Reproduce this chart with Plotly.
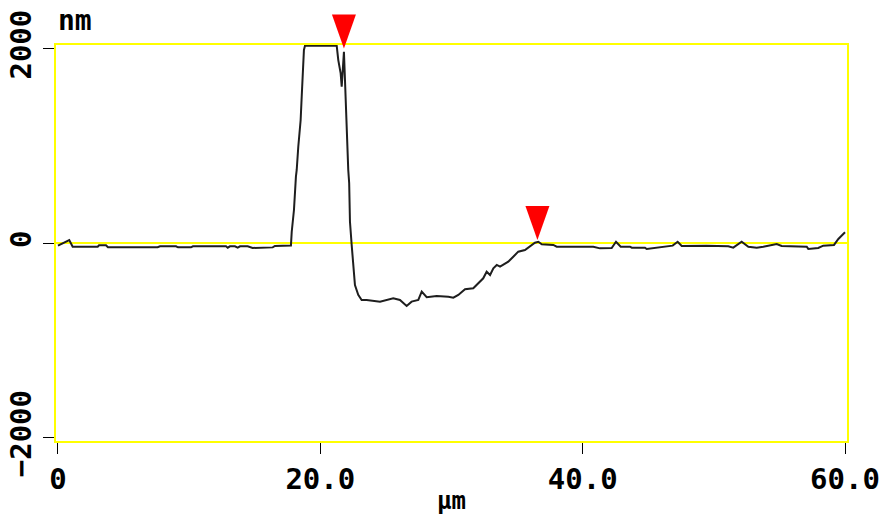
import plotly.graph_objects as go

# Profile data (µm, nm)
x_um = [0.0, 0.86, 1.12, 3.03, 3.13, 3.66, 3.81, 7.60, 7.78, 9.00, 9.15, 10.14, 10.29,
        12.81, 12.94, 13.11, 13.49, 13.70, 13.88, 14.46, 14.84, 16.37, 16.54, 17.38, 17.76,
        17.82, 17.99, 18.14, 18.20, 18.32, 18.50, 18.58, 18.66, 18.75, 18.83,
        21.25, 21.37, 21.55, 21.63, 21.80, 21.88, 22.01, 22.13, 22.20, 22.26, 22.39, 22.51,
        22.64, 22.89, 23.15, 23.53, 24.55, 25.56, 26.07, 26.58, 26.96, 27.47, 27.73, 28.11,
        28.87, 29.76, 30.14, 30.52, 31.03, 31.66, 32.04, 32.42, 32.68, 32.94, 33.19, 33.45,
        33.70, 33.95, 34.33, 34.71, 35.09, 35.60, 35.98, 36.36, 36.62, 36.88, 37.76, 38.02,
        40.81, 41.07, 41.32, 42.21, 42.54, 42.90, 43.61, 43.74, 44.75, 44.88, 45.64, 46.86,
        47.24, 47.55, 49.45, 51.10, 51.48, 52.12, 52.63, 53.27, 53.77, 54.79, 55.17, 57.08,
        57.20, 57.96, 58.34, 59.16, 59.49, 60.0]
z_nm = [-22, 36, -33, -33, -18, -18, -39, -39, -29, -29, -39, -39, -29,
        -29, -43, -29, -29, -43, -29, -29, -46, -40, -26, -26, -20,
        121, 344, 687, 756, 995, 1270, 1509, 1784, 1990, 2033,
        2033, 1886, 1750, 1612, 1972, 1681, 1115, 756, 619, 224, -15, -238,
        -427, -529, -581, -581, -598, -563, -581, -643, -598, -581, -495, -553,
        -540, -547, -557, -529, -471, -461, -409, -358, -290, -324, -255, -221,
        -238, -221, -187, -136, -84, -67, -33, 8, 18, -8, -15, -33,
        -33, -43, -50, -46, 18, -33, -33, -43, -43, -56, -43, -22,
        18, -26, -22, -29, -43, 18, -33, -43, -33, -5, -26, -33,
        -56, -46, -22, -15, 46, 115]

# Cursor positions (µm, nm)
cursor_x = [21.80, 36.55]
cursor_y = [2005, 36]

x_ticks = [0, 20, 40, 60]
x_tick_labels = ["0", "20.0", "40.0", "60.0"]
y_ticks = [-2000, 0, 2000]
y_tick_labels = ["\u22122000", "0", "2000"]

x_range = [-0.15, 60.15]
y_range = [-2031, 2041]

FONT = "DejaVu Sans Mono"
YELLOW = "#FFFF00"

fig = go.Figure()
fig.add_trace(go.Scatter(x=x_um, y=z_nm, mode="lines",
                         line=dict(color="#1e1e1e", width=2),
                         hoverinfo="skip", showlegend=False))

for cx, cy in zip(cursor_x, cursor_y):
    fig.add_shape(type="path", xref="x", yref="paper",
                  xsizemode="pixel", ysizemode="pixel",
                  xanchor=cx, yanchor=(cy - y_range[0]) / (y_range[1] - y_range[0]),
                  path="M -12,34 L 12,34 L 0,0 Z",
                  fillcolor="#FF0000", line=dict(width=0), layer="above")

fig.update_xaxes(range=x_range, tickvals=x_ticks, ticktext=x_tick_labels,
                 showgrid=False, zeroline=False, showline=True, linecolor=YELLOW,
                 linewidth=2, mirror=True, ticks="outside", ticklen=11, tickwidth=1,
                 tickcolor="#000000", automargin=False,
                 tickfont=dict(family=FONT, size=29, color="#000000", weight="bold"))
fig.update_yaxes(range=y_range, tickvals=y_ticks, ticktext=y_tick_labels,
                 showgrid=False, zeroline=True, zerolinecolor=YELLOW, zerolinewidth=2,
                 showline=True, linecolor=YELLOW, linewidth=2, mirror=True,
                 ticks="outside", ticklen=11, tickwidth=1, tickcolor="#000000",
                 tickangle=-90, automargin=False,
                 tickfont=dict(family=FONT, size=29, color="#000000", weight="bold"))

fig.add_annotation(text="nm", xref="paper", yref="paper", x=0.0, y=1.062,
                   xanchor="left", yanchor="middle", showarrow=False,
                   font=dict(family=FONT, size=28, color="#000000", weight="bold"))
fig.add_annotation(text="µm", xref="paper", yref="paper", x=0.5, y=-0.152,
                   xanchor="center", yanchor="middle", showarrow=False,
                   font=dict(family=FONT, size=24, color="#000000", weight="bold"))

fig.update_layout(width=884, height=516,
                  margin=dict(l=56, r=37, t=45, b=75, pad=0),
                  paper_bgcolor="#FFFFFF", plot_bgcolor="#FFFFFF",
                  showlegend=False)

fig.write_html("out.html")
